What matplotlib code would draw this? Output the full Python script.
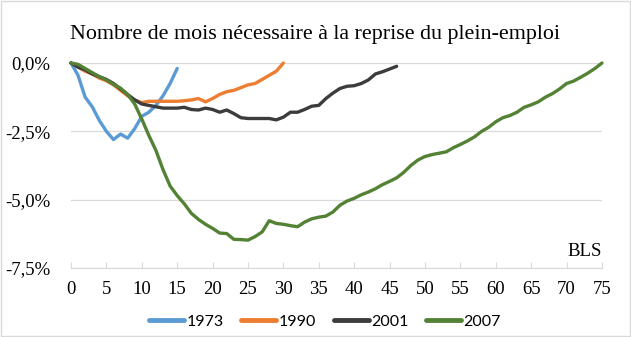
import numpy as np
import matplotlib.pyplot as plt
from matplotlib.ticker import FuncFormatter

# ecart d'emploi (%) par mois depuis le pic
y1973 = [0, -0.45, -1.25, -1.6, -2.1, -2.5, -2.8, -2.6, -2.75, -2.4, -1.95,
         -1.8, -1.55, -1.2, -0.75, -0.2]
y1990 = [0, -0.15, -0.3, -0.4, -0.55, -0.65, -0.8, -1.0, -1.2, -1.35, -1.45,
         -1.4, -1.4, -1.4, -1.4, -1.4, -1.38, -1.35, -1.3, -1.42, -1.3,
         -1.15, -1.05, -1.0, -0.9, -0.8, -0.75, -0.6, -0.45, -0.3, 0.0]
y2001 = [0, -0.15, -0.25, -0.4, -0.5, -0.6, -0.75, -0.95, -1.15, -1.35, -1.5,
         -1.55, -1.6, -1.65, -1.65, -1.65, -1.62, -1.7, -1.72, -1.65, -1.7,
         -1.8, -1.72, -1.85, -2.0, -2.03, -2.03, -2.03, -2.03, -2.08, -1.98,
         -1.8, -1.8, -1.7, -1.58, -1.55, -1.3, -1.1, -0.93, -0.85, -0.83,
         -0.75, -0.62, -0.4, -0.32, -0.22, -0.12]
y2007 = [0, -0.05, -0.2, -0.35, -0.5, -0.62, -0.78, -0.92, -1.15, -1.5, -2.05,
         -2.65, -3.2, -3.9, -4.5, -4.85, -5.15, -5.5, -5.72, -5.9, -6.05,
         -6.22, -6.24, -6.45, -6.46, -6.48, -6.35, -6.18, -5.77, -5.87, -5.9,
         -5.95, -5.99, -5.82, -5.7, -5.64, -5.6, -5.45, -5.2, -5.05, -4.95,
         -4.82, -4.72, -4.6, -4.45, -4.33, -4.2, -4.0, -3.75, -3.55, -3.42,
         -3.35, -3.3, -3.25, -3.1, -2.98, -2.85, -2.7, -2.5, -2.35, -2.15,
         -2.0, -1.92, -1.8, -1.62, -1.53, -1.42, -1.25, -1.12, -0.95, -0.75,
         -0.66, -0.52, -0.37, -0.2, 0.0]

series = [("1973", y1973, "#5B9BD5"),
          ("1990", y1990, "#ED7D31"),
          ("2001", y2001, "#3C3C3C"),
          ("2007", y2007, "#548235")]

serif = "Liberation Serif"

fig = plt.figure(figsize=(6.31, 3.37), dpi=100)
ax = fig.add_axes([0.1125, 0.2047, 0.8415, 0.6083])

for name, vals, col in series:
    ax.plot(np.arange(len(vals)), vals, color=col, lw=2.4, label=name,
            solid_capstyle="round", clip_on=False, zorder=3)

ax.set_xlim(0, 75)
ax.set_ylim(-7.5, 0)
ax.set_xticks(np.arange(0, 76, 5))
ax.set_yticks([0, -2.5, -5, -7.5])
ax.yaxis.set_major_formatter(FuncFormatter(lambda v, p: f"{v:.1f}%".replace(".", ",")))
ax.grid(axis="y", color="#D9D9D9", lw=0.9)
ax.set_axisbelow(True)
for s in ["top", "right", "left"]:
    ax.spines[s].set_visible(False)
ax.spines["bottom"].set_color("#D9D9D9")
ax.tick_params(axis="x", direction="in", length=4, color="#D9D9D9", pad=9)
ax.tick_params(axis="y", length=0, pad=15)
for lab in ax.get_xticklabels() + ax.get_yticklabels():
    lab.set_fontfamily(serif)
    lab.set_fontsize(13.5)
    lab.set_color("#000000")

ax.text(75, -6.9, "BLS", ha="right", va="center", fontsize=13.5, family=serif)
fig.text(0.111, 0.897, "Nombre de mois nécessaire à la reprise du plein-emploi",
         ha="left", va="center", fontsize=15.8, family=serif)

leg = fig.legend(loc="center", bbox_to_anchor=(0.515, 0.045), ncol=4, frameon=False,
                 prop={"family": "Lato", "size": 11.5}, handlelength=2.2,
                 columnspacing=1.1, handletextpad=0.15)
for h in leg.get_lines():
    h.set_linewidth(3.5)

fig.patches.append(plt.Rectangle((0.001, 0.002), 0.997, 0.995, transform=fig.transFigure,
                                 fill=False, edgecolor="#D9D9D9", lw=1))

fig.savefig("out.png", dpi=100)
